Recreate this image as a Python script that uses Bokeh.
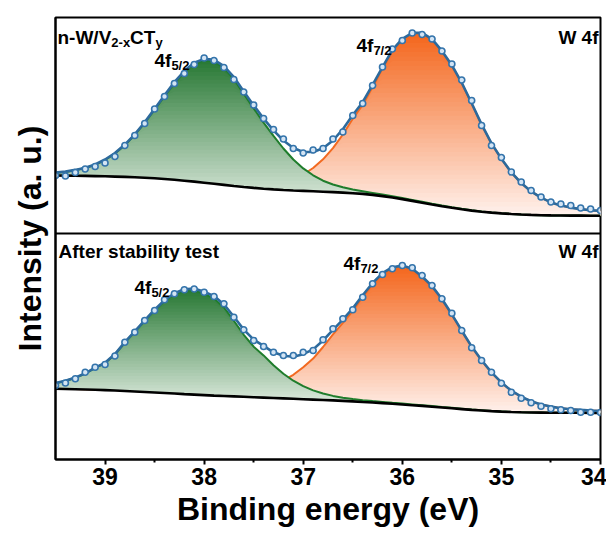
import numpy as np
from bokeh.plotting import figure
from bokeh.models import Range1d, Label, Span, FixedTicker
from bokeh.embed import file_html
from bokeh.resources import INLINE

# ---------------- data (binding energy grid, eV) ----------------
energy = [39.5, 39.4, 39.3, 39.2, 39.1, 39.0, 38.9, 38.8, 38.7, 38.6,
          38.5, 38.4, 38.3, 38.2, 38.1, 38.0, 37.9, 37.8, 37.7, 37.6,
          37.5, 37.4, 37.3, 37.2, 37.1, 37.0, 36.9, 36.8, 36.7, 36.6,
          36.5, 36.4, 36.3, 36.2, 36.1, 36.0, 35.9, 35.8, 35.7, 35.6,
          35.5, 35.4, 35.3, 35.2, 35.1, 35.0, 34.9, 34.8, 34.7, 34.6,
          34.5, 34.4, 34.3, 34.2, 34.1, 34.0]

# top panel: n-W/V2-xCTy (intensity, a.u.)
top_data = [58.0, 57.5, 61.0, 64.5, 67.0, 70.5, 77.0, 88.0, 98.0, 110.0,
            124.5, 137.0, 150.0, 160.0, 169.0, 175.5, 173.0, 166.0, 154.0, 141.5,
            128.5, 115.0, 104.0, 94.5, 85.0, 80.5, 83.5, 85.0, 94.5, 101.5,
            118.0, 130.0, 148.0, 166.5, 184.5, 193.0, 200.5, 199.0, 194.5, 182.5,
            169.5, 153.5, 133.0, 108.0, 88.0, 76.0, 61.5, 51.5, 43.0, 36.5,
            31.5, 29.5, 28.0, 25.5, 24.5, 23.0]
top_bg = [58.0, 57.9, 57.8, 57.6, 57.4, 57.2, 56.9, 56.6, 56.3, 55.8,
          55.2, 54.5, 53.7, 52.8, 51.9, 50.8, 49.7, 48.6, 47.5, 46.5,
          45.6, 44.8, 44.1, 43.5, 43.0, 42.6, 42.2, 41.8, 41.4, 40.9,
          40.3, 39.6, 38.6, 37.4, 36.0, 34.4, 32.6, 30.8, 29.0, 27.3,
          25.7, 24.2, 22.9, 21.8, 20.9, 20.1, 19.5, 19.0, 18.6, 18.3,
          18.1, 18.0, 17.9, 17.9, 17.8, 17.8]
top_f52 = [2.7, 3.7, 5.4, 7.8, 11.3, 16.3, 23.0, 31.7, 42.3, 54.8,
           68.6, 82.9, 96.7, 108.6, 117.6, 122.4, 122.4, 117.0, 107.0, 93.0,
           79.5, 66.0, 53.5, 41.5, 31.0, 22.5, 16.0, 11.0, 7.6, 5.3,
           3.7, 2.7, 2.0, 1.5, 1.2, 1.1, 1.0, 0.9, 0.8, 0.7,
           0.6, 0.5, 0.4, 0.3, 0.2, 0.2, 0.1, 0.0, 0.0, 0.0,
           0.0, 0.0, 0.0, 0.0, 0.0, 0.0]
top_f72 = [0.3, 0.3, 0.4, 0.4, 0.4, 0.5, 0.5, 0.6, 0.6, 0.7,
           0.8, 0.9, 1.0, 1.1, 1.2, 1.4, 1.5, 1.7, 1.9, 2.4,
           3.0, 4.1, 5.6, 8.0, 11.5, 16.4, 23.3, 32.4, 44.0, 58.1,
           74.5, 89.0, 108.0, 127.5, 146.4, 159.2, 167.0, 168.9, 164.6, 154.6,
           142.0, 126.0, 107.0, 87.0, 69.0, 54.5, 41.5, 31.5, 23.5, 17.5,
           13.0, 10.0, 8.0, 6.5, 5.5, 4.8]

# bottom panel: after stability test
bot_data = [74.0, 76.5, 80.7, 87.3, 92.3, 95.0, 103.5, 117.3, 127.3, 139.0,
            149.0, 159.7, 165.7, 169.7, 170.5, 167.3, 163.0, 155.7, 142.3, 129.7,
            119.0, 113.0, 107.3, 104.0, 104.0, 107.3, 109.0, 119.7, 130.7, 140.7,
            149.7, 162.3, 175.7, 185.0, 190.7, 194.0, 191.7, 184.0, 174.0, 160.7,
            146.3, 129.0, 111.7, 99.0, 87.3, 76.3, 67.3, 61.3, 56.7, 53.3,
            50.7, 49.7, 49.0, 47.3, 47.3, 47.0]
bot_bg = [70.7, 70.5, 70.3, 70.0, 69.7, 69.4, 69.0, 68.5, 68.0, 67.5,
          67.0, 66.5, 66.0, 65.4, 64.9, 64.4, 63.9, 63.5, 63.1, 62.7,
          62.3, 61.9, 61.5, 61.1, 60.7, 60.3, 59.9, 59.5, 59.1, 58.6,
          58.1, 57.5, 57.0, 56.4, 55.7, 55.0, 54.3, 53.6, 52.8, 52.0,
          51.2, 50.4, 49.6, 49.0, 48.4, 47.9, 47.5, 47.2, 47.0, 46.9,
          46.8, 46.7, 46.7, 46.7, 46.6, 46.6]
bot_f52 = [5.6, 8.0, 11.4, 15.9, 21.9, 27.0, 36.0, 48.5, 59.7, 71.2,
           82.2, 91.9, 99.3, 103.6, 104.4, 101.4, 97.0, 88.5, 75.7, 62.0,
           50.5, 42.2, 32.7, 24.7, 18.1, 13.0, 9.2, 6.5, 4.5, 3.2,
           2.4, 1.8, 1.4, 1.2, 1.0, 0.9, 0.8, 0.7, 0.6, 0.5,
           0.5, 0.4, 0.3, 0.3, 0.2, 0.2, 0.1, 0.1, 0.0, 0.0,
           0.0, 0.0, 0.0, 0.0, 0.0, 0.0]
bot_f72 = [0.2, 0.2, 0.2, 0.3, 0.3, 0.3, 0.4, 0.4, 0.5, 0.5,
           0.6, 0.8, 1.0, 1.3, 1.6, 2.0, 2.5, 3.1, 4.0, 5.2,
           7.0, 9.5, 13.0, 18.0, 24.0, 32.0, 41.0, 53.0, 66.0, 78.0,
           90.6, 105.0, 118.1, 128.7, 135.6, 138.0, 135.6, 128.7, 120.0, 108.0,
           93.5, 78.0, 63.0, 50.0, 38.5, 29.0, 21.2, 15.5, 11.3, 8.2,
           6.1, 4.6, 3.6, 2.9, 2.4, 2.0]

x_ticks = [39, 38, 37, 36, 35, 34]
x_minor = [38.5, 37.5, 36.5, 35.5, 34.5]

# ---------------- figure ----------------
FONT = "Liberation Sans"
FRAME_W, FRAME_H = 545, 442
X0, X1 = 39.5, 34.0
PX_PER_EV = FRAME_W / (X0 - X1)
TOP_OFF = 226.0   # vertical offset of upper panel (stacked in one frame)
BL, BT = 55, 17
W, H = 606, 534

p = figure(width=W, height=H, output_backend="svg", toolbar_location=None,
           x_range=Range1d(X0, X1), y_range=Range1d(0, FRAME_H),
           min_border_left=BL, min_border_right=W - BL - FRAME_W, min_border_top=BT,
           min_border_bottom=H - BT - FRAME_H)
p.background_fill_color = "white"
p.border_fill_color = "white"
p.outline_line_color = "black"
p.outline_line_width = 2
p.xgrid.visible = False
p.ygrid.visible = False

p.xaxis.ticker = FixedTicker(ticks=x_ticks, minor_ticks=x_minor)
p.xaxis.axis_line_width = 2
p.xaxis.major_tick_line_width = 2
p.xaxis.minor_tick_line_width = 2
p.xaxis.major_tick_in = 0
p.xaxis.major_tick_out = 5
p.xaxis.minor_tick_in = 0
p.xaxis.minor_tick_out = 3
p.xaxis.major_label_text_font = FONT
p.xaxis.major_label_text_font_style = "bold"
p.xaxis.major_label_text_font_size = "23px"
p.xaxis.major_label_text_color = "black"
p.xaxis.major_label_standoff = 3
p.xaxis.axis_label = "Binding energy (eV)"
p.xaxis.axis_label_text_font = FONT
p.xaxis.axis_label_text_font_style = "bold"
p.xaxis.axis_label_text_font_size = "32px"
p.xaxis.axis_label_text_color = "black"
p.xaxis.axis_label_standoff = 3

p.yaxis.ticker = FixedTicker(ticks=[])
p.yaxis.axis_line_width = 2
p.yaxis.major_tick_line_color = None
p.yaxis.minor_tick_line_color = None
p.yaxis.major_label_text_font_size = "0px"
p.yaxis.axis_label = "Intensity (a. u.)"
p.yaxis.axis_label_text_font = FONT
p.yaxis.axis_label_text_font_style = "bold"
p.yaxis.axis_label_text_font_size = "32px"
p.yaxis.axis_label_text_color = "black"
p.yaxis.axis_label_standoff = 8


def hex2rgb(h):
    h = h.lstrip("#")
    return np.array([int(h[i:i + 2], 16) for i in (0, 2, 4)], dtype=float)


def mix(c_bot, c_top, t):
    c = hex2rgb(c_bot) + (hex2rgb(c_top) - hex2rgb(c_bot)) * t
    return "#%02x%02x%02x" % tuple(int(round(v)) for v in c)


def gradient_area(bg, comp, off, c_top, c_bot, ylo, n=40):
    bg = np.asarray(bg, float)
    curve = bg + np.asarray(comp, float)
    yhi = curve.max()
    levels = np.linspace(ylo, yhi, n + 1)[1:]
    for L in levels[::-1]:
        t = (L - ylo) / (yhi - ylo)
        y2 = np.maximum(np.minimum(curve, L), bg)
        p.varea(x=energy, y1=bg + off, y2=y2 + off, fill_color=mix(c_bot, c_top, t))


GREEN_TOP, GREEN_BOT = "#2a7a36", "#eef4ee"
ORANGE_TOP, ORANGE_BOT = "#f4681f", "#fff3ef"
GREEN_LINE, ORANGE_LINE = "#1f7d2c", "#f26a21"
BLUE_LINE, DOT_LINE, DOT_FILL = "#2d6a9c", "#3474ab", "#d3e4f4"

panels = [
    (top_data, top_bg, top_f52, top_f72, TOP_OFF),
    (bot_data, bot_bg, bot_f52, bot_f72, 0.0),
]

for data, bg, f52, f72, off in panels:
    bg_a = np.asarray(bg, float)
    g = bg_a + np.asarray(f52, float)
    o = bg_a + np.asarray(f72, float)
    env = bg_a + np.asarray(f52, float) + np.asarray(f72, float)
    ylo = bg_a.min()
    gradient_area(bg, f72, off, ORANGE_TOP, ORANGE_BOT, ylo)
    p.line(energy, o + off, line_color=ORANGE_LINE, line_width=2)
    gradient_area(bg, f52, off, GREEN_TOP, GREEN_BOT, ylo)
    p.line(energy, g + off, line_color=GREEN_LINE, line_width=2)
    p.line(energy, bg_a + off, line_color="black", line_width=2.6)
    p.line(energy, env + off, line_color=BLUE_LINE, line_width=2.6)
    p.scatter(energy, np.asarray(data, float) + off, marker="circle", size=6,
              fill_color=DOT_FILL, line_color=DOT_LINE, line_width=1.6)

p.add_layout(Span(location=TOP_OFF, dimension="width", line_color="black", line_width=2))

# ---------------- texts ----------------
CW = {'n': .611, '-': .333, 'W': .944, '/': .278, 'V': .667, '2': .556, 'x': .556,
      'C': .722, 'T': .611, 'y': .556, '4': .556, 'f': .333, '5': .556, '7': .556, ' ': .278}
FRAME_LEFT_PX, FRAME_BOTTOM_PX = 55.0, 459.0


def px2e(px):
    return X0 - (px - FRAME_LEFT_PX) / PX_PER_EV


def rich(px, base, parts):
    for text, size, drop in parts:
        p.add_layout(Label(x=px2e(px), y=FRAME_BOTTOM_PX - (base + drop), text=text,
                           text_font=FONT, text_font_style="bold",
                           text_font_size="%dpx" % size, text_color="black",
                           text_align="left", text_baseline="alphabetic"))
        px += sum(CW.get(ch, .6) for ch in text) * size


def plain(px, base, text, size, align="left"):
    p.add_layout(Label(x=px2e(px), y=FRAME_BOTTOM_PX - base, text=text,
                       text_font=FONT, text_font_style="bold",
                       text_font_size="%dpx" % size, text_color="black",
                       text_align=align, text_baseline="alphabetic"))


rich(57, 37, [("n-W/V", 19, 0), ("2-x", 13, 5), ("CT", 19, 0), ("y", 13, 5)])
plain(598, 37, "W 4f", 19, align="right")
rich(154, 60, [("4f", 19, 0), ("5/2", 13, 5)])
rich(356, 45, [("4f", 19, 0), ("7/2", 13, 5)])

plain(58, 251, "After stability test", 19)
plain(598, 251, "W 4f", 19, align="right")
rich(134, 287, [("4f", 19, 0), ("5/2", 13, 5)])
rich(343, 263, [("4f", 19, 0), ("7/2", 13, 5)])

open("out.html", "w").write(file_html(p, INLINE))
